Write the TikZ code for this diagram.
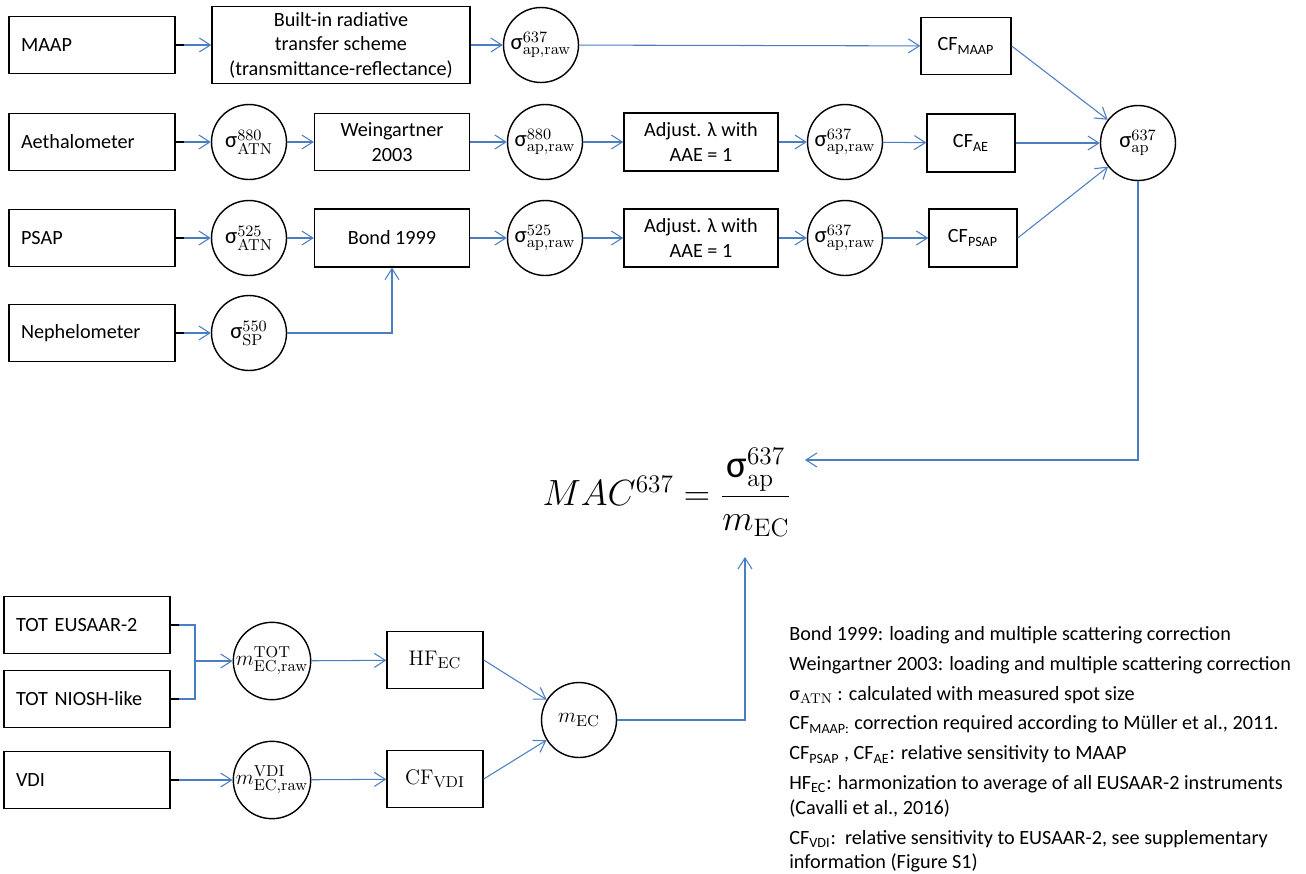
\documentclass[tikz,border=0pt]{standalone}
\usepackage{amsmath}
\usepackage[no-math]{fontspec}
\setmainfont{Carlito}
\usetikzlibrary{arrows.meta}
\definecolor{lineblue}{RGB}{74,126,193}
\newcommand{\sig}[2]{$\mbox{σ}^{\mathrm{#1}}_{\mathrm{#2}}$}
\tikzset{
  instr/.style={draw, line width=0.8pt, text width=2.84cm, inner xsep=0.24cm,
    minimum height=1.14cm, align=left},
  procbox/.style={draw, line width=0.8pt, align=center, inner sep=1pt},
  quant/.style={draw, circle, line width=0.8pt, minimum size=1.5cm, inner sep=0pt,
    font=\fontsize{13}{15}\selectfont},
  flow/.style={lineblue, line width=0.6pt, -{Straight Barb[length=2.2mm,width=2.8mm]}},
  feed/.style={lineblue, line width=0.6pt}
}
\begin{document}
\begin{tikzpicture}[x=0.02cm, y=-0.02cm, font=\fontsize{11.5}{14}\selectfont]
\useasboundingbox (0,0) rectangle (1306,873);

% absorption instruments
\node[instr] (maap) at (92,45) {MAAP};
\node[instr] (aeth) at (92,142) {Aethalometer};
\node[instr] (psap) at (92,238) {PSAP};
\node[instr] (neph) at (92,333) {Nephelometer};

\node[procbox, minimum width=5.16cm, minimum height=1.54cm] (builtin) at (341,45)
  {Built-in radiative\\transfer scheme\\(transmittance-reflectance)};
\node[quant] (rawM) at (541,45) {\sig{637}{ap,raw}};
\node[procbox, minimum width=1.8cm, minimum height=1.14cm] (cfM) at (966,46) {CF\textsubscript{MAAP}};

\node[quant] (atnA) at (249,142) {\sig{880}{ATN}};
\node[procbox, minimum width=3.1cm, minimum height=1.14cm] (wein) at (392,142) {Weingartner\\2003};
\node[quant] (rawA) at (545,142) {\sig{880}{ap,raw}};
\node[procbox, minimum width=3.08cm, minimum height=1.16cm] (adjA) at (701,142) {Adjust. λ with\\AAE = 1};
\node[quant] (rawA6) at (845,142) {\sig{637}{ap,raw}};
\node[procbox, minimum width=1.76cm, minimum height=1.16cm] (cfAE) at (971,143) {CF\textsubscript{AE}};
\node[quant] (sigap) at (1138,143) {\sig{637}{ap}};

\node[quant] (atnP) at (249,238) {\sig{525}{ATN}};
\node[procbox, minimum width=3.1cm, minimum height=1.16cm] (bond) at (392,238) {Bond 1999};
\node[quant] (rawP) at (545,238) {\sig{525}{ap,raw}};
\node[procbox, minimum width=3.08cm, minimum height=1.16cm] (adjP) at (701,238) {Adjust. λ with\\AAE = 1};
\node[quant] (rawP6) at (845,238) {\sig{637}{ap,raw}};
\node[procbox, minimum width=1.76cm, minimum height=1.16cm] (cfP) at (973,238) {CF\textsubscript{PSAP}};

\node[quant] (spN) at (249,333) {\sig{550}{SP}};

% MAC formula
\node (mac) at (667,492) {\fontsize{22}{26}\selectfont
  $MAC^{637} = \dfrac{\mbox{σ}^{637}_{\mathrm{ap}}}{m_{\mathrm{EC}}}$};
\coordinate (macin) at (805,460);
\coordinate (macbot) at (745,557);

% EC instruments
\node[instr] (eusaar) at (87,625) {TOT EUSAAR-2};
\node[instr] (niosh) at (87,699) {TOT NIOSH-like};
\node[instr] (vdi) at (87,780) {VDI};
\coordinate (join) at (195,661);

\node[quant] (mtot) at (272,661) {$m^{\mathrm{TOT}}_{\mathrm{EC,raw}}$};
\node[quant] (mvdi) at (272,780) {$m^{\mathrm{VDI}}_{\mathrm{EC,raw}}$};
\node[procbox, minimum width=1.92cm, minimum height=1.14cm, font=\fontsize{13}{15}\selectfont] (hf) at (435,660) {$\mathrm{HF}_{\mathrm{EC}}$};
\node[procbox, minimum width=1.92cm, minimum height=1.14cm, font=\fontsize{13}{15}\selectfont] (cfv) at (435,779) {$\mathrm{CF}_{\mathrm{VDI}}$};
\node[quant] (mec) at (579,720) {$m_{\mathrm{EC}}$};

% connectors
\draw[flow] (maap) -- (builtin);
\draw[flow] (builtin) -- (rawM);
\draw[flow] (rawM) -- (cfM);
\draw[flow] (cfM.east) -- (sigap);
\draw[flow] (aeth) -- (atnA);
\draw[flow] (atnA) -- (wein);
\draw[flow] (wein) -- (rawA);
\draw[flow] (rawA) -- (adjA);
\draw[flow] (adjA) -- (rawA6);
\draw[flow] (rawA6) -- (cfAE);
\draw[flow] (cfAE) -- (sigap);
\draw[flow] (psap) -- (atnP);
\draw[flow] (atnP) -- (bond);
\draw[flow] (bond) -- (rawP);
\draw[flow] (rawP) -- (adjP);
\draw[flow] (adjP) -- (rawP6);
\draw[flow] (rawP6) -- (cfP);
\draw[flow] (cfP.east) -- (sigap);
\draw[flow] (neph) -- (spN);
\draw[flow] (spN.east) -| (bond.south);
\draw[flow] (sigap.south) |- (macin);

\draw[feed] (eusaar.east) -| (join);
\draw[feed] (niosh.east) -| (join);
\draw[flow] (join) -- (mtot);
\draw[flow] (vdi) -- (mvdi);
\draw[flow] (mtot) -- (hf);
\draw[flow] (mvdi) -- (cfv);
\draw[flow] (hf.east) -- (mec);
\draw[flow] (cfv.east) -- (mec);
\draw[flow] (mec.east) -| (macbot);

\foreach \n in {maap,aeth,psap,neph,eusaar,niosh,vdi}
  \draw[line width=1.2pt] (\n.east) -- ++(8,0);

% legend
\node[anchor=north west, align=left, inner sep=0pt] (legend) at (789,626) {%
  Bond 1999: loading and multiple scattering correction\\[3pt]
  Weingartner 2003: loading and multiple scattering correction\\[3pt]
  $\mbox{σ}_{\mathrm{ATN}}$ : calculated with measured spot size\\[3pt]
  CF\textsubscript{MAAP:} correction required according to Müller et al., 2011.\\[3pt]
  CF\textsubscript{PSAP} , CF\textsubscript{AE}: relative sensitivity to MAAP\\[3pt]
  HF\textsubscript{EC}: harmonization to average of all EUSAAR-2 instruments\\
  (Cavalli et al., 2016)\\[3pt]
  CF\textsubscript{VDI}:\ \ relative sensitivity to EUSAAR-2, see supplementary\\
  information (Figure S1)};
\end{tikzpicture}
\end{document}
